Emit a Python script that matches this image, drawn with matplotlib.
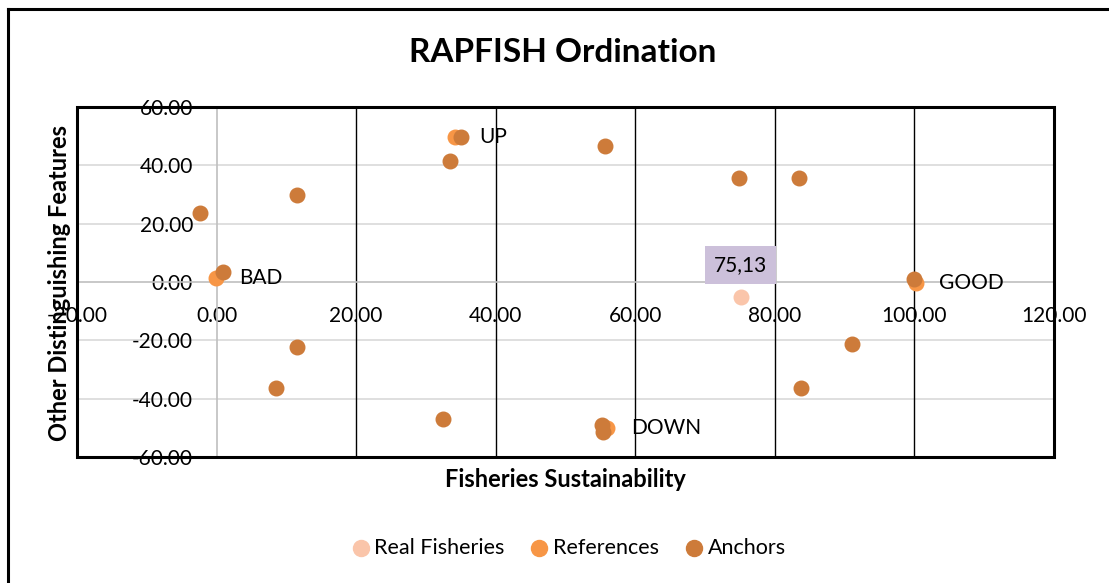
import matplotlib
matplotlib.use("Agg")
import matplotlib.pyplot as plt
from matplotlib.lines import Line2D
from matplotlib.patches import Rectangle

plt.rcParams["font.family"] = ["Lato", "DejaVu Sans"]

# data
real_x = [75.13]
real_y = [-5.1]
real_label = ["75,13"]

ref_x = [-0.1, 34.2, 56.0, 100.2]
ref_y = [1.4, 49.7, -50.0, -0.2]
ref_labels = ["BAD", "UP", "DOWN", "GOOD"]

anchor_x = [-2.3, 11.6, 0.9, 11.5, 8.5, 33.4, 35.0, 55.7, 32.5, 55.2, 55.4,
            74.9, 83.5, 100.0, 91.1, 83.8]
anchor_y = [23.7, 29.8, 3.4, -22.3, -36.3, 41.5, 49.7, 46.6, -47.0, -49.0, -51.4,
            35.7, 35.7, 1.0, -21.3, -36.3]

x_ticks = [-20, 0, 20, 40, 60, 80, 100, 120]
y_ticks = [-60, -40, -20, 0, 20, 40, 60]

c_real = "#FAC5AA"
c_ref = "#F79646"
c_anchor = "#CD7B3A"

fig = plt.figure(figsize=(11.09, 5.83), dpi=100)
ax = fig.add_axes([0.0694, 0.2161, 0.881, 0.6003])
ax.set_xlim(-20, 120)
ax.set_ylim(-60, 60)

# grid: light gray horizontal, black vertical
for y in y_ticks:
    if y not in (0, -60, 60):
        ax.axhline(y, color="#D9D9D9", lw=1.2, zorder=0)
for x in x_ticks:
    if x not in (0, -20, 120):
        ax.axvline(x, color="black", lw=1.0, zorder=0)

# axes lines through zero
ax.spines["left"].set_position(("data", 0))
ax.spines["bottom"].set_position(("data", 0))
ax.spines["left"].set_color("#BFBFBF")
ax.spines["bottom"].set_color("#BFBFBF")
ax.spines["left"].set_linewidth(1.2)
ax.spines["bottom"].set_linewidth(1.2)
ax.spines["top"].set_visible(False)
ax.spines["right"].set_visible(False)

ax.set_xticks(x_ticks)
ax.set_yticks(y_ticks)
ax.set_xticklabels([f"{v:.2f}" for v in x_ticks])
ax.set_yticklabels([f"{v:.2f}" for v in y_ticks])
ax.tick_params(axis="x", length=0, pad=17, labelsize=15)
ax.tick_params(axis="y", length=0, pad=17, labelsize=15)

# plot area frame
ax.add_patch(Rectangle((0, 0), 1, 1, transform=ax.transAxes, fill=False,
                       edgecolor="black", lw=2.2, zorder=5, clip_on=False))

ax.scatter(real_x, real_y, s=110, color=c_real, zorder=3, label="Real Fisheries")
ax.scatter(ref_x, ref_y, s=110, color=c_ref, zorder=3, label="References")
ax.scatter(anchor_x, anchor_y, s=110, color=c_anchor, zorder=4, label="Anchors")

for x, y, t in zip(ref_x, ref_y, ref_labels):
    ax.annotate(t, (x, y), xytext=(17, 0), textcoords="offset points",
                va="center", ha="left", fontsize=15, zorder=6)

for x, y, t in zip(real_x, real_y, real_label):
    ax.annotate(t, (x, y), xytext=(0, 23), textcoords="offset points",
                va="center", ha="center", fontsize=15, zorder=6,
                bbox=dict(boxstyle="square,pad=0.42", fc="#CCC0DA", ec="none"))

fig.text(0.507, 0.91, "RAPFISH Ordination", ha="center", va="center",
         fontsize=24, fontweight="bold")
fig.text(0.510, 0.178, "Fisheries Sustainability", ha="center", va="center",
         fontsize=17, fontweight="bold")
fig.text(0.054, 0.515, "Other Distinguishing Features", ha="center", va="center",
         rotation=90, fontsize=17, fontweight="bold")

fig.legend(loc="center", bbox_to_anchor=(0.512, 0.06), ncol=3, frameon=False,
           fontsize=15.5, handlelength=1.0, handletextpad=0.15,
           columnspacing=1.1, markerscale=1.1)

# outer chart border (only top and left visible in the crop)
fig.add_artist(Line2D([7.5 / 1109, 7.5 / 1109], [0, 1 - 8.5 / 583],
                      transform=fig.transFigure, color="black", lw=2.2))
fig.add_artist(Line2D([7.5 / 1109, 1], [1 - 8.5 / 583, 1 - 8.5 / 583],
                      transform=fig.transFigure, color="black", lw=2.2))

fig.savefig("out.png", dpi=100)
